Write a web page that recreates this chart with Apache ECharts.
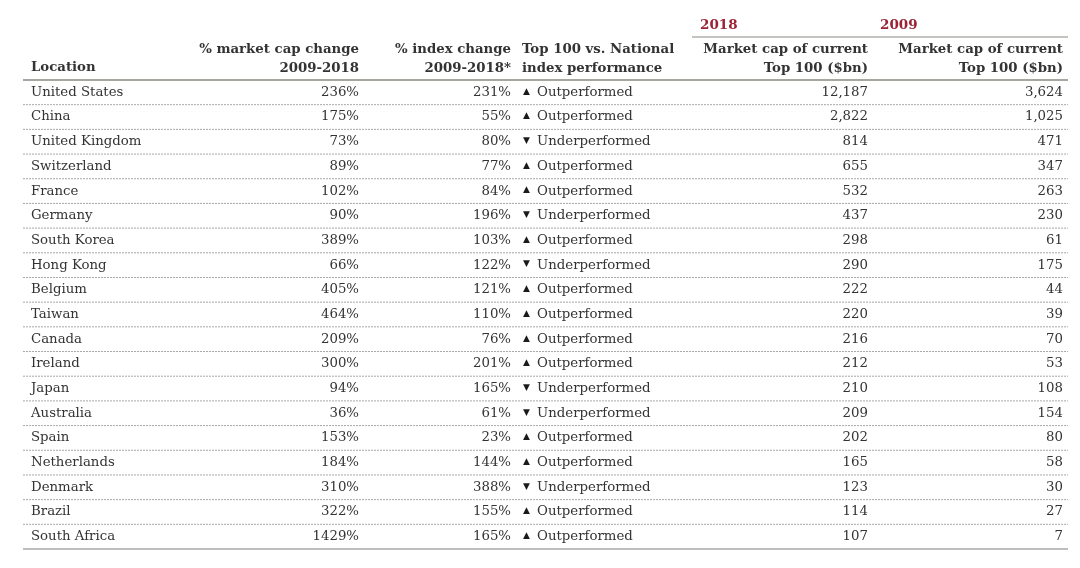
<!DOCTYPE html>
<html><head><meta charset="utf-8">
<script src="https://cdn.jsdelivr.net/npm/echarts@6/dist/echarts.min.js"></script>
<style>html,body{margin:0;padding:0;background:#fff}#c{width:1080px;height:568px}</style>
</head><body><div id="c"></div>
<script>
const locations = ["United States","China","United Kingdom","Switzerland","France","Germany","South Korea","Hong Kong","Belgium","Taiwan","Canada","Ireland","Japan","Australia","Spain","Netherlands","Denmark","Brazil","South Africa"];
const marketCapChange = [236,175,73,89,102,90,389,66,405,464,209,300,94,36,153,184,310,322,1429];
const indexChange = [231,55,80,77,84,196,103,122,121,110,76,201,165,61,23,144,388,155,165];
const performance = ["Outperformed","Outperformed","Underperformed","Outperformed","Outperformed","Underperformed","Outperformed","Underperformed","Outperformed","Outperformed","Outperformed","Outperformed","Underperformed","Underperformed","Outperformed","Outperformed","Underperformed","Outperformed","Outperformed"];
const marketCap2018 = [12187,2822,814,655,532,437,298,290,222,220,216,212,210,209,202,165,123,114,107];
const marketCap2009 = [3624,1025,471,347,263,230,61,175,44,39,70,53,108,154,80,58,30,27,7];

const FONT = "DejaVu Serif";
const TXT = "#333333";
const FS = 13.3;
const chart = echarts.init(document.getElementById('c'), null, {renderer:'canvas'});
const fmt = n => n.toLocaleString('en-US');

function txt(x, y, s, align, opts) {
  return {type:'text', x:x, y:y, style:Object.assign({text:s, fill:TXT, font:`${FS}px "${FONT}"`, align:align, verticalAlign:'middle'}, opts||{})};
}
function head(x, y, s, align) {
  return {type:'text', x:x, y:y, style:{text:s, fill:TXT, font:`bold ${FS}px "${FONT}"`, align:align, verticalAlign:'middle'}};
}

chart.setOption({
  animation:false,
  grid:{left:0,right:0,top:80,bottom:19},
  xAxis:{type:'value',min:0,max:1080,show:false},
  yAxis:{type:'category',data:locations,inverse:true,show:false},
  series:[{
    type:'custom',
    data:locations.map((l,i)=>[0,i]),
    encode:{x:0,y:1},
    renderItem:function(params, api){
      const i = api.value(1);
      const c = api.coord([0,i]);
      const h = api.size([0,1])[1];
      const y = c[1];
      const X = v => api.coord([v,i])[0];
      const up = performance[i] === "Outperformed";
      const last = i === locations.length-1;
      return {type:'group', children:[
        txt(X(31), y, locations[i], 'left'),
        txt(X(359), y, marketCapChange[i]+'%', 'right'),
        txt(X(511), y, indexChange[i]+'%', 'right'),
        txt(X(523), y-1, up ? '\u25B2' : '\u25BC', 'left', {font:`9px "${FONT}"`, fill:'#1a1a1a'}),
        txt(X(537), y, performance[i], 'left'),
        txt(X(868), y, fmt(marketCap2018[i]), 'right'),
        txt(X(1063), y, fmt(marketCap2009[i]), 'right'),
        {type:'line', shape:{x1:X(23),y1:y+h/2,x2:X(1068),y2:y+h/2},
         style: last ? {stroke:'#a8a8a8', lineWidth:1.5} : {stroke:'#a8a8a8', lineWidth:1, lineDash:[2,1]}}
      ]};
    }
  }],
  graphic:[
    {type:'line', shape:{x1:23,y1:80,x2:1068,y2:80}, style:{stroke:'#8a8a82',lineWidth:1.5}},
    {type:'line', shape:{x1:692,y1:37,x2:1068,y2:37}, style:{stroke:'#8a8a82',lineWidth:1.2}},
    {type:'text', left:700, top:18, style:{text:'2018', fill:'#9b2335', font:`bold 13.5px "${FONT}"`}},
    {type:'text', left:880, top:18, style:{text:'2009', fill:'#9b2335', font:`bold 13.5px "${FONT}"`}},
    head(31, 68, 'Location', 'left'),
    head(359, 50, '% market cap change', 'right'),
    head(359, 69, '2009-2018', 'right'),
    head(511, 50, '% index change', 'right'),
    head(511, 69, '2009-2018*', 'right'),
    head(522, 50, 'Top 100 vs. National', 'left'),
    head(522, 69, 'index performance', 'left'),
    head(868, 50, 'Market cap of current', 'right'),
    head(868, 69, 'Top 100 ($bn)', 'right'),
    head(1063, 50, 'Market cap of current', 'right'),
    head(1063, 69, 'Top 100 ($bn)', 'right')
  ]
});
</script>
</body></html>
